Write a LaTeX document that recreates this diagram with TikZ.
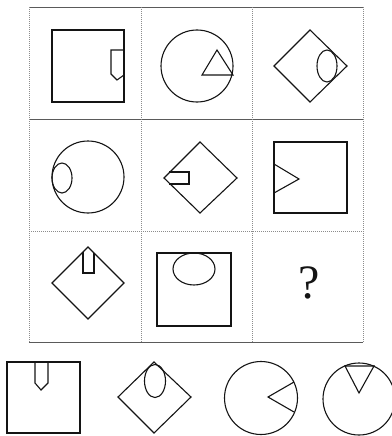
\documentclass[tikz,border=0pt]{standalone}
\usepackage{fontspec}
\usepackage{xcolor}
\usepackage{tikz}
\usetikzlibrary{positioning}
\newfontfamily\queryfont{Liberation Serif}
\definecolor{figInk}{RGB}{20,20,20}
\definecolor{figGrid}{RGB}{90,90,90}
\definecolor{figDot}{RGB}{140,140,140}
\tikzset{
  figgridsolid/.style={draw=figGrid,line width=0.9pt},
  figgriddot/.style={draw=figDot,line width=0.8pt,dash pattern=on 1pt off 1pt},
  figshape/.style={draw=figInk,line width=1.1pt,line join=miter},
  figquery/.style={font=\queryfont\fontsize{48}{52}\selectfont,text=figInk,inner sep=0pt},
}

\begin{document}
\begin{tikzpicture}[x=1pt,y=-1pt]
\useasboundingbox (0,0) rectangle (391,436);

% Grid: solid rules and dotted rules.
\draw[figgridsolid] (29,7) -- (363,7);
\draw[figgridsolid] (29,119) -- (363,119);
\draw[figgridsolid] (29,342) -- (363,342);
\foreach \gx in {29,141,252,363}{
  \draw[figgriddot] (\gx,7) -- (\gx,342);
}
\draw[figgriddot] (29,231) -- (363,231);

% Row 1.
\draw[figshape] (52,30) rectangle (124,102);
\draw[figshape] (124,50) -- (111,50) -- (111,74) -- (117,80) -- (124,75);
\draw[figshape] (197,66) circle [radius=36];
\draw[figshape] (217,50) -- (202,75) -- (233,75) -- cycle;
\draw[figshape] (274,66) -- (310,30) -- (347,66) -- (310,102) -- cycle;
\draw[figshape] (327,66) ellipse [x radius=10, y radius=16];

% Row 2.
\draw[figshape] (88,177) circle [radius=36];
\draw[figshape] (62,178) ellipse [x radius=10, y radius=15];
\draw[figshape] (164,178) -- (200,142) -- (237,178) -- (200,213) -- cycle;
\draw[figshape] (169,172) -- (189,172) -- (189,184) -- (169,184);
\draw[figshape] (274,142) rectangle (347,213);
\draw[figshape] (274,164) -- (299,179) -- (274,193);

% Row 3.
\draw[figshape] (52,283) -- (88,247) -- (124,283) -- (88,319) -- cycle;
\draw[figshape] (83,252) -- (83,273) -- (94,273) -- (94,253);
\draw[figshape] (157,253) rectangle (231,326);
\draw[figshape] (194,269) ellipse [x radius=21, y radius=16];
\node[figquery] (query) at (309,283) {?};

% Answer options.
\draw[figshape] (7,362) rectangle (80,433);
\draw[figshape] (35,362) -- (35,383) -- (41,390) -- (48,383) -- (48,362);
\draw[figshape] (118,397) -- (154,362) -- (191,397) -- (154,433) -- cycle;
\draw[figshape] (155,381) ellipse [x radius=10.5, y radius=16.5];
\draw[figshape] (261,398) circle [radius=36.5];
\draw[figshape] (294,382) -- (268,397) -- (294,412);
\draw[figshape] (359,399) circle [radius=36];
\draw[figshape] (345,366) -- (374,366) -- (359,393) -- cycle;
\end{tikzpicture}
\end{document}
